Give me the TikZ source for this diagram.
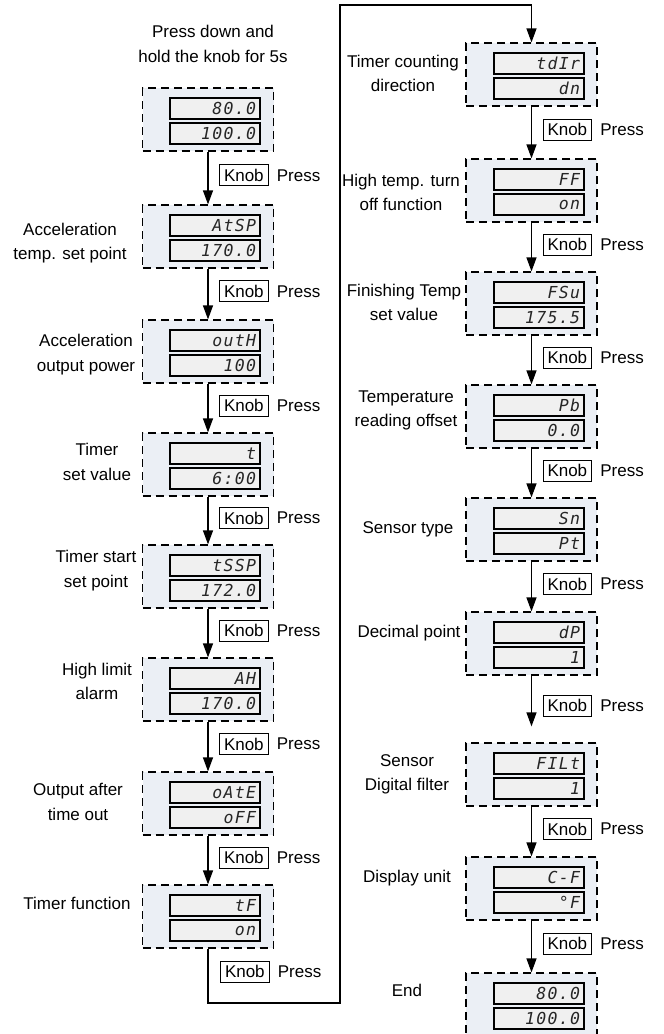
\documentclass[tikz,border=0pt]{standalone}
\usepackage{fontspec}
\setmainfont{Liberation Sans}
\newfontfamily\lcdfont[LetterSpace=8]{DejaVu Sans Mono}
\usetikzlibrary{positioning,arrows.meta,calc}
\definecolor{panelfill}{RGB}{235,239,245}
\definecolor{lcdfill}{RGB}{240,240,240}
\tikzset{
  panel/.style={draw, line width=1.2pt, dash pattern=on 8pt off 5pt, fill=panelfill,
    minimum width=131pt, minimum height=63pt, inner sep=0pt},
  lcd/.style={draw, line width=1.1pt, fill=lcdfill, minimum width=90pt, minimum height=21pt,
    inner sep=0pt, text width=82pt, align=right, text=black!85,
    font=\lcdfont\itshape\fontsize{16.5}{16.5}\selectfont},
  caption/.style={align=center, inner sep=0pt, font=\fontsize{17}{24.5}\selectfont},
  knob/.style={draw, line width=1pt, inner xsep=4.5pt, inner ysep=0pt, minimum height=21pt,
    font=\fontsize{17}{20}\selectfont},
  press/.style={inner sep=0pt, font=\fontsize{17}{20}\selectfont},
  flow/.style={line width=1.2pt, -{Triangle[length=14pt,width=10pt]}},
}
\begin{document}
\begin{tikzpicture}[x=1pt, y=-1pt]
  \clip (0,0) rectangle (664,1034);
  % left column
  \foreach \i/\yy/\up/\dn in {1/88/80.0/100.0, 2/205/AtSP/170.0, 3/320/outH/100,
      4/433/t/6:00, 5/545/tSSP/172.0, 6/658/AH/170.0, 7/772/oAtE/oFF, 8/885/tF/on} {
    \node[panel] (L\i) at (208,\yy+31.5) {};
    \node[lcd] (L\i-up) at (215,\yy+20.5) {\up};
    \node[lcd] (L\i-dn) at (215,\yy+45.5) {\dn};
  }
  % right column
  \foreach \i/\yy/\up/\dn in {1/43/tdIr/dn, 2/159/FF/on, 3/272/FSu/175.5, 4/385/Pb/0.0,
      5/498/Sn/Pt, 6/612/dP/1, 7/743/FILt/1, 8/857/C-F/°F, 9/973/80.0/100.0} {
    \node[panel] (R\i) at (531.5,\yy+31.5) {};
    \node[lcd] (R\i-up) at (539,\yy+20.5) {\up};
    \node[lcd] (R\i-dn) at (539,\yy+45.5) {\dn};
  }
  % captions
  \node[caption] (start) at (213,44) {Press down and\\hold the knob for 5s};
  \node[caption] (capL2) at (70,243) {Acceleration\\temp. set point};
  \node[caption] (capL3) at (86,354.5) {Acceleration\\output power};
  \node[caption] (capL4) at (97,462) {Timer\\set value};
  \node[caption] (capL5) at (96,570.5) {Timer start\\set point};
  \node[caption] (capL6) at (97,681.5) {High limit\\alarm};
  \node[caption] (capL7) at (78,802) {Output after\\time out};
  \node[caption] (capL8) at (77,903) {Timer function};
  \node[caption] (capR1) at (403,73.5) {Timer counting\\direction};
  \node[caption] (capR2) at (401,192.5) {High temp. turn\\off function};
  \node[caption] (capR3) at (404,302.5) {Finishing Temp\\set value};
  \node[caption] (capR4) at (406,410.5) {Temperature\\reading offset};
  \node[caption] (capR5) at (408,529) {Sensor type};
  \node[caption] (capR6) at (409,633) {Decimal point};
  \node[caption] (capR7) at (407,774.5) {Sensor\\Digital filter};
  \node[caption] (capR8) at (407,878) {Display unit};
  \node[caption] (capR9) at (407,990) {End};
  % arrows, left
  \foreach \i [count=\j from 2] in {1,...,7} {
    \draw[flow] (L\i.south) -- coordinate[pos=0.45] (mL\i) (L\j.north);
    \node[knob, right=11pt of mL\i] (kL\i) {Knob};
    \node[press, right=8pt of kL\i] (pL\i) {Press};
  }
  % loop over to the right column
  \coordinate (turnA) at (340,1003);
  \coordinate (turnB) at (340,5);
  \draw[flow] (L8.south) |- (turnA) -- (turnB) -| (R1.north);
  \node[knob, anchor=west] (kL8) at ($(L8.south)+(12,23)$) {Knob};
  \node[press, right=8pt of kL8] (pL8) {Press};
  % arrows, right
  \foreach \i/\s [count=\j from 2] in {1/0,2/0,3/0,4/0,5/0,6/16,7/0,8/0} {
    \draw[flow, shorten >=\s pt] (R\i.south) -- coordinate[pos=0.45] (mR\i) (R\j.north);
    \node[knob, right=11pt of mR\i] (kR\i) {Knob};
    \node[press, right=8pt of kR\i] (pR\i) {Press};
  }
\end{tikzpicture}
\end{document}
